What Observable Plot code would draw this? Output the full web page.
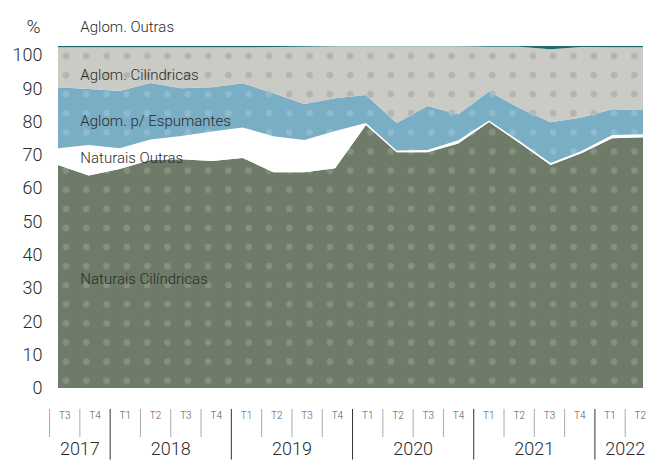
<!DOCTYPE html>
<html><head><meta charset="utf-8">
<script src="https://cdn.jsdelivr.net/npm/d3@7"></script>
<script src="https://cdn.jsdelivr.net/npm/@observablehq/plot@0.6"></script>
<style>body{margin:0;background:#fff;}</style>
</head><body><div id="chart"></div>
<script>
// ---- data ----
const quarters = ["T3","T4","T1","T2","T3","T4","T1","T2","T3","T4","T1","T2","T3","T4","T1","T2","T3","T4","T1","T2"];
const years = ["2017","2018","2019","2020","2021","2022"];
const yearQuarterCounts = [2,4,4,4,4,2];
const seriesNames = ["Naturais Cilíndricas","Naturais Outras","Aglom. p/ Espumantes","Aglom. Cilíndricas","Aglom. Outras"];
const naturaisCilindricas = [67.0,63.8,65.8,68.5,68.7,68.2,69.1,64.8,64.8,66.0,79.0,70.8,70.8,73.4,79.9,73.5,67.0,70.5,75.0,75.3];
const naturaisOutras      = [5.0,9.2,6.2,6.1,7.0,8.8,9.1,10.8,9.7,11.2,0.6,0.5,0.7,1.0,0.4,0.6,0.6,0.7,1.0,0.9];
const aglomEspumantes     = [18.3,16.8,17.2,17.0,14.3,13.3,13.3,12.9,10.8,9.8,8.4,8.3,13.2,7.8,8.7,9.9,12.2,10.0,7.7,7.3];
const aglomCilindricas    = [12.0,12.5,13.1,10.7,12.3,12.0,10.8,13.9,17.2,15.6,14.6,23.0,17.9,20.4,13.5,18.5,21.9,21.2,18.6,18.8];
const aglomOutras         = [0.4,0.4,0.4,0.4,0.4,0.4,0.4,0.3,0.2,0.1,0.1,0.1,0.1,0.1,0.2,0.2,1.0,0.3,0.4,0.4];
const yTicks = [0,10,20,30,40,50,60,70,80,90,100];
// series label annotations (x in quarter index, y in %)
const seriesLabels = [
  {text:"Aglom. Outras", x:0.71, y:108.4},
  {text:"Aglom. Cilíndricas", x:0.71, y:94.0},
  {text:"Aglom. p/ Espumantes", x:0.71, y:80.3},
  {text:"Naturais Outras", x:0.71, y:69.3},
  {text:"Naturais Cilíndricas", x:0.71, y:32.7}
];

// ---- styling ----
const baseColors = ["#6e7b69","#ffffff","#7aaec5","#cbcbc5","#1b6a74"];
const dotColors  = ["#85917f",null,"#8dbbd0","#b4b5af",null];
const fontFamily = "Roboto, 'Noto Sans', sans-serif";

const seriesValues = [naturaisCilindricas, naturaisOutras, aglomEspumantes, aglomCilindricas, aglomOutras];
const rows = seriesNames.flatMap((s,k) => seriesValues[k].map((v,i) => ({i, series:s, value:v})));
const fills = seriesNames.map((s,k) => dotColors[k] ? `url(#pat${k})` : baseColors[k]);

// bottom axis layout (quarter cells in index units)
const axisStart = -0.29, quarterStep = 0.984;
const edge = j => axisStart + quarterStep * j;
const quarterCells = quarters.map((q,j) => ({q, x: edge(j + 0.5)}));
let acc = 0;
const yearCells = years.map((yname,k) => { const c = {year:yname, x: edge(acc + yearQuarterCounts[k]/2)}; acc += yearQuarterCounts[k]; return c; });
const yearEdges = []; acc = 0;
yearQuarterCounts.slice(0,-1).forEach(n => { acc += n; yearEdges.push(edge(acc)); });
const quarterEdges = d3.range(0, quarters.length).filter(j => !yearEdges.some(e => Math.abs(e - edge(j)) < 1e-9)).map(edge);

const chart = Plot.plot({
  width: 648, height: 460,
  marginLeft: 58, marginRight: 5, marginTop: 46, marginBottom: 72,
  style: {fontFamily, fontSize: "18px", fontWeight: 300, color: "#333", background: "#fff", overflow: "visible"},
  x: {domain: [0, quarters.length - 1], axis: null},
  y: {domain: [0, 102.7], axis: null},
  color: {domain: seriesNames, range: fills},
  marks: [
    Plot.areaY(rows, {x: "i", y: "value", fill: "series", z: "series", curve: "linear"}),
    Plot.axisY({ticks: yTicks, tickSize: 0, tickPadding: 16, fontSize: 18, label: null, fill: "#2b2b2b"}),
    Plot.text(["%"], {frameAnchor: "top-left", dx: -25, dy: -27, fontSize: 19, fill: "#2b2b2b", textAnchor: "middle"}),
    Plot.text(seriesLabels, {x: "x", y: "y", text: "text", textAnchor: "start", fontSize: 15, fill: "#2b2b2b"}),
    Plot.ruleX(quarterEdges, {x: d => d, y1: -6.3, y2: -14.7, stroke: "#aaa", strokeWidth: 1}),
    Plot.ruleX(yearEdges, {x: d => d, y1: -6.3, y2: -21.5, stroke: "#333", strokeWidth: 1}),
    Plot.text(quarterCells, {x: "x", y: -8.1, text: "q", fontSize: 10, fill: "#555"}),
    Plot.text(yearCells, {x: "x", y: -18.2, text: "year", fontSize: 18, fill: "#2b2b2b"})
  ]
});

// dot patterns
const svg = d3.select(chart);
const defs = svg.insert("defs", ":first-child");
const pw = 20.3, ph = 19.1;
seriesNames.forEach((s,k) => {
  if (!dotColors[k]) return;
  const p = defs.append("pattern").attr("id", `pat${k}`).attr("patternUnits","userSpaceOnUse")
    .attr("x", 66 - pw/2).attr("y", 56 - ph/2).attr("width", pw).attr("height", ph);
  p.append("rect").attr("width", pw).attr("height", ph).attr("fill", baseColors[k]);
  p.append("circle").attr("cx", pw/2).attr("cy", ph/2).attr("r", 3.3).attr("fill", dotColors[k]);
});
document.getElementById("chart").appendChild(chart);
</script>
</body></html>
